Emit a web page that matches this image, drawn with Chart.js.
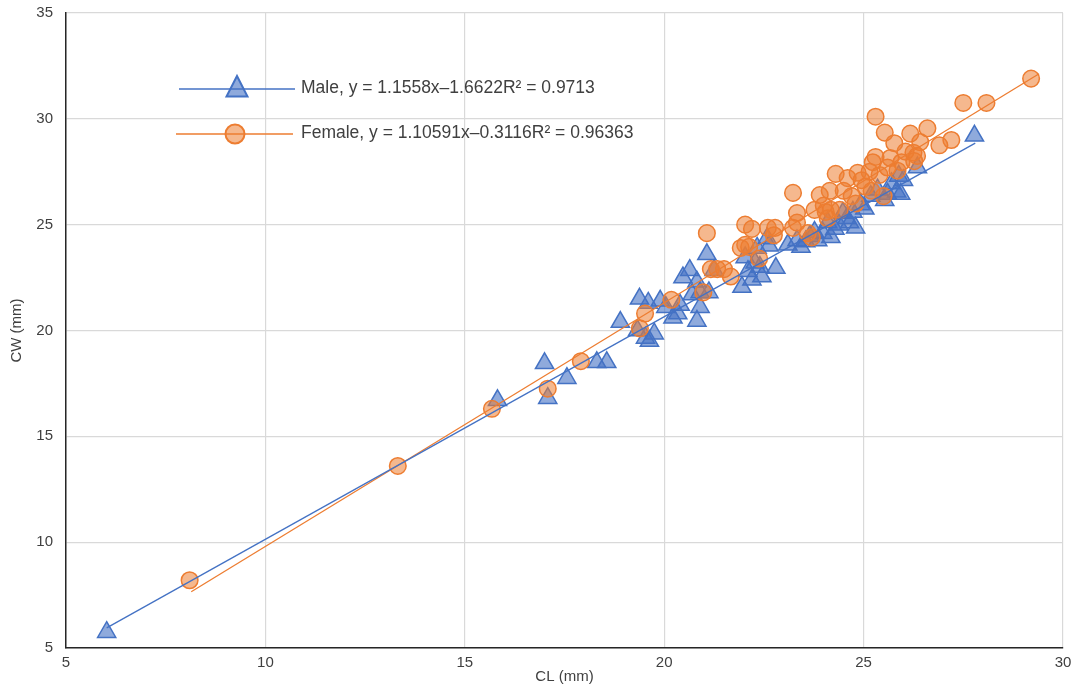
<!DOCTYPE html>
<html>
<head>
<meta charset="utf-8">
<title>CL vs CW</title>
<script src="https://cdn.jsdelivr.net/npm/chart.js@4.4.0/dist/chart.umd.min.js"></script>
<style>
    html, body { margin: 0; padding: 0; background: #ffffff; }
    #wrap { width: 1075px; height: 686px; position: relative; }
</style>
</head>
<body>
<div id="wrap"><canvas id="crabChart"></canvas></div>
<script>
// Datos (CL = largo, CW = ancho, en mm)
const maleCL = [
    6.02, 15.82, 17.08, 17.0, 17.56, 18.31, 18.56, 18.9, 19.38, 19.33,
    19.53, 19.63, 19.75, 19.6, 19.9, 20.04, 20.22, 20.34, 20.4, 20.47,
    20.64, 20.82, 20.7, 20.82, 20.9, 20.9, 21.07, 21.12, 21.25, 21.95,
    22.03, 22.1, 22.2, 22.28, 22.4, 22.33, 22.45, 22.63, 22.58, 22.8,
    23.1, 23.33, 23.43, 23.55, 23.65, 23.77, 23.85, 23.98, 24.1, 24.18,
    24.28, 24.38, 24.48, 24.58, 24.65, 24.73, 24.8, 24.93, 25.03, 25.18,
    25.35, 25.53, 25.6, 25.7, 25.83, 25.88, 25.93, 26.0, 26.35, 27.78,
];
const maleCW = [
    5.75, 16.7, 16.8, 18.45, 17.75, 18.5, 18.5, 20.4, 21.5, 20.0,
    19.65, 19.5, 19.85, 21.3, 21.4, 21.1, 20.6, 20.8, 21.2, 22.5,
    22.85, 22.3, 21.7, 20.45, 21.1, 21.8, 23.6, 21.8, 22.85, 22.05,
    23.45, 22.8, 22.4, 23.2, 23.0, 23.9, 22.55, 24.0, 24.35, 22.95,
    24.05, 24.25, 23.95, 24.2, 24.45, 24.65, 24.25, 24.6, 25.1, 24.4,
    24.8, 25.0, 25.55, 25.3, 25.1, 25.6, 24.85, 25.95, 25.75, 26.35,
    26.65, 26.15, 26.45, 26.95, 26.55, 27.3, 26.45, 27.1, 27.7, 29.2,
];
const femaleCL = [
    8.1, 13.32, 15.68, 17.08, 17.91, 19.39, 19.52, 20.18, 20.98, 21.07,
    21.17, 21.33, 21.5, 21.67, 21.92, 22.03, 22.13, 22.03, 22.2, 22.38,
    22.6, 22.78, 22.75, 23.23, 23.33, 23.33, 23.23, 23.6, 23.7, 23.77,
    23.9, 24.0, 24.05, 24.1, 24.18, 24.15, 24.3, 24.4, 24.5, 24.6,
    24.7, 24.8, 24.85, 24.95, 25.05, 25.15, 25.2, 25.3, 25.3, 25.23,
    25.4, 25.5, 25.53, 25.6, 25.67, 25.77, 25.85, 25.95, 26.05, 26.17,
    26.25, 26.27, 26.34, 26.42, 26.6, 26.9, 27.2, 27.5, 28.08, 29.2,
];
const femaleCW = [
    8.2, 13.6, 16.3, 17.25, 18.55, 20.1, 20.8, 21.45, 21.8, 24.6,
    22.9, 22.9, 22.9, 22.55, 23.9, 24.05, 23.95, 25.0, 24.8, 23.4,
    24.85, 24.85, 24.5, 26.5, 25.55, 25.1, 24.85, 24.6, 24.4, 25.7,
    26.4, 25.9, 25.6, 25.3, 25.7, 26.6, 27.4, 25.7, 26.6, 27.2,
    26.35, 26.0, 27.45, 27.1, 26.8, 27.5, 26.6, 30.1, 28.2, 27.95,
    27.35, 26.35, 29.35, 27.7, 28.15, 28.85, 27.55, 27.95, 28.45, 29.3,
    28.4, 28.0, 28.25, 28.9, 29.55, 28.75, 29.0, 30.75, 30.75, 31.9,
];

// Líneas de tendencia (extremos)
const maleFitCL = [6.02, 27.8];
const maleFitCW = [5.95, 28.85];
const femaleFitCL = [8.14, 29.4];
const femaleFitCW = [7.66, 32.13];

const legendLabels = [
    "Male, y = 1.1558x\u20131.6622R\u00B2 = 0.9713",
    "Female, y = 1.10591x\u20130.3116R\u00B2 = 0.96363",
];
const xTitle = "CL (mm)";
const yTitle = "CW (mm)";

const BLUE = "#4472C4";
const BLUE_FILL = "rgba(68, 114, 196, 0.6)";
const ORANGE = "#ED7D31";
const ORANGE_FILL = "rgba(237, 125, 49, 0.55)";
const TEXT = "#404040";
const FONT = "'Liberation Sans', Arial, sans-serif";

function toPoints(xs, ys) {
    return xs.map((x, i) => ({ x: x, y: ys[i] }));
}

// Leyenda dentro del área del gráfico, estilo Excel
const inlineLegend = {
    id: "inlineLegend",
    afterDraw(chart) {
        const ctx = chart.ctx;
        const items = [
            { label: legendLabels[0], color: BLUE, fill: BLUE_FILL, shape: "triangle", x0: 179, x1: 295, mx: 237, y: 89 },
            { label: legendLabels[1], color: ORANGE, fill: ORANGE_FILL, shape: "circle", x0: 176, x1: 293, mx: 235, y: 134 },
        ];
        ctx.save();
        items.forEach((it) => {
            ctx.strokeStyle = it.color;
            ctx.lineWidth = 1.5;
            ctx.beginPath();
            ctx.moveTo(it.x0, it.y);
            ctx.lineTo(it.x1, it.y);
            ctx.stroke();

            ctx.fillStyle = it.fill;
            ctx.lineWidth = 2;
            ctx.beginPath();
            if (it.shape === "triangle") {
                ctx.moveTo(it.mx, it.y - 13);
                ctx.lineTo(it.mx + 10.5, it.y + 7.5);
                ctx.lineTo(it.mx - 10.5, it.y + 7.5);
                ctx.closePath();
            } else {
                ctx.arc(it.mx, it.y, 9.5, 0, Math.PI * 2);
            }
            ctx.fill();
            ctx.stroke();

            ctx.fillStyle = TEXT;
            ctx.font = "17.5px " + FONT;
            ctx.textBaseline = "middle";
            ctx.textAlign = "left";
            ctx.fillText(it.label, 301, it.y - 1);
        });
        ctx.restore();
    },
};

const ctx = document.getElementById("crabChart").getContext("2d");
new Chart(ctx, {
    type: "scatter",
    data: {
        datasets: [
            {
                label: "Male trend",
                data: toPoints(maleFitCL, maleFitCW),
                showLine: true,
                borderColor: BLUE,
                borderWidth: 1.3,
                pointRadius: 0,
            },
            {
                label: "Female trend",
                data: toPoints(femaleFitCL, femaleFitCW),
                showLine: true,
                borderColor: ORANGE,
                borderWidth: 1.3,
                pointRadius: 0,
            },
            {
                label: "Female",
                data: toPoints(femaleCL, femaleCW),
                pointStyle: "circle",
                pointRadius: 8.3,
                backgroundColor: ORANGE_FILL,
                borderColor: ORANGE,
                borderWidth: 1.5,
            },
            {
                label: "Male",
                data: toPoints(maleCL, maleCW),
                pointStyle: "triangle",
                pointRadius: 10.5,
                backgroundColor: BLUE_FILL,
                borderColor: BLUE,
                borderWidth: 1.5,
            },
        ],
    },
    options: {
        responsive: true,
        maintainAspectRatio: false,
        animation: false,
        layout: {
            padding: { top: 13, right: 12, left: 0, bottom: 0 },
        },
        plugins: {
            legend: { display: false },
            tooltip: { enabled: false },
        },
        scales: {
            x: {
                type: "linear",
                min: 5,
                max: 30,
                afterFit: (scale) => {
                    scale.height = 38;
                    scale.paddingLeft = 0;
                    scale.paddingRight = 0;
                },
                ticks: {
                    stepSize: 5,
                    color: TEXT,
                    padding: 6,
                    font: { size: 15, family: FONT },
                },
                grid: { color: "#d9d9d9", lineWidth: 1.2, drawTicks: false },
                border: { color: "#262626", width: 1.5 },
                title: {
                    display: true,
                    text: xTitle,
                    color: TEXT,
                    padding: { top: -2, bottom: 0 },
                    font: { size: 15, family: FONT },
                },
            },
            y: {
                type: "linear",
                min: 5,
                max: 35,
                afterFit: (scale) => {
                    scale.width = 66;
                    scale.paddingTop = 0;
                    scale.paddingBottom = 0;
                },
                ticks: {
                    stepSize: 5,
                    color: TEXT,
                    padding: 13,
                    font: { size: 15, family: FONT },
                },
                grid: { color: "#d9d9d9", lineWidth: 1.2, drawTicks: false },
                border: { color: "#262626", width: 1.5 },
                title: {
                    display: true,
                    text: yTitle,
                    color: TEXT,
                    padding: { top: 8, bottom: 0 },
                    font: { size: 15, family: FONT },
                },
            },
        },
    },
    plugins: [inlineLegend],
});
</script>
</body>
</html>
